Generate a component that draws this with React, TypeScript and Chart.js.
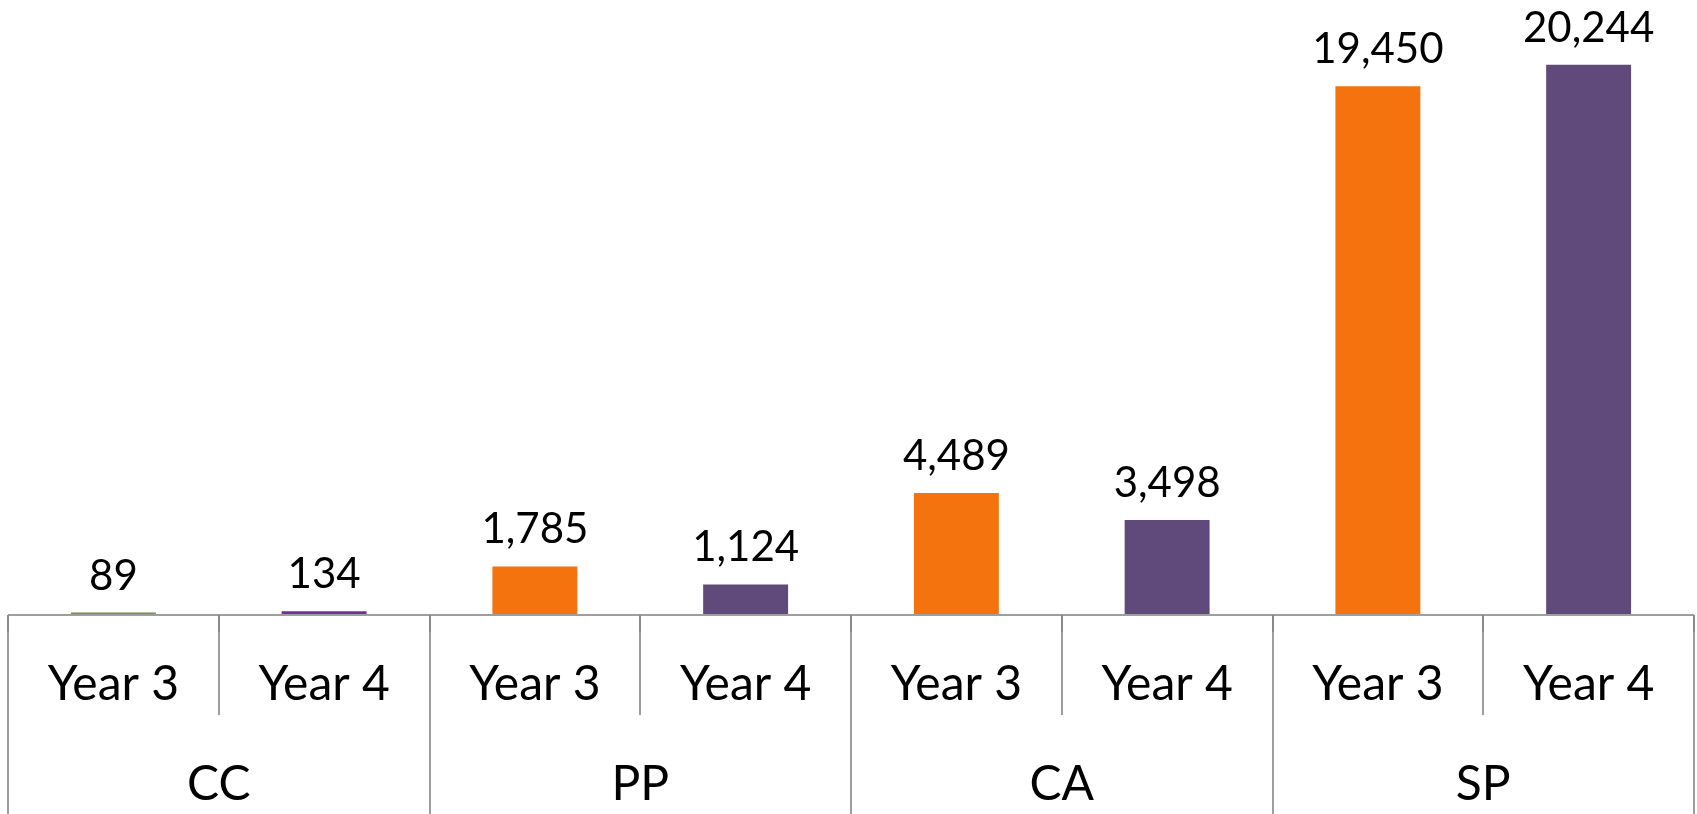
import React, { useEffect, useRef } from 'react';
import { Chart, registerables } from 'chart.js';

Chart.register(...registerables);

const groups = ['CC', 'PP', 'CA', 'SP'];
const years = ['Year 3', 'Year 4'];
const values = [89, 134, 1785, 1124, 4489, 3498, 19450, 20244];
const barColors = ['#77933C', '#7030A0', '#F4730E', '#604A7B', '#F4730E', '#604A7B', '#F4730E', '#604A7B'];
const yMax = 22000;

const categories = groups.flatMap((g) => years.map((y) => `${g} ${y}`));

const FONT = 'Lato, "Open Sans", sans-serif';

const twoLevelAxis = {
  id: 'twoLevelAxis',
  afterDraw(chart: any) {
    const { ctx, chartArea, scales } = chart;
    const x = scales.x;
    const n = categories.length;
    const bottom = chartArea.bottom;
    const perGroup = years.length;
    ctx.save();
    ctx.strokeStyle = '#9E9E9E';
    ctx.lineWidth = 2;
    ctx.beginPath();
    ctx.moveTo(chartArea.left, bottom);
    ctx.lineTo(chartArea.right, bottom);
    ctx.stroke();
    for (let i = 0; i <= n; i++) {
      const px = Math.round(x.getPixelForValue(i - 0.5));
      const isGroup = i % perGroup === 0;
      ctx.strokeStyle = '#9E9E9E';
      ctx.beginPath();
      ctx.moveTo(px, bottom);
      ctx.lineTo(px, isGroup ? chart.height : bottom + 100);
      ctx.stroke();
      ctx.strokeStyle = '#8A8A8A';
      ctx.beginPath();
      ctx.moveTo(px, bottom);
      ctx.lineTo(px, bottom + 17);
      ctx.stroke();
    }
    ctx.fillStyle = '#000';
    ctx.textAlign = 'center';
    ctx.textBaseline = 'alphabetic';
    ctx.font = `48px ${FONT}`;
    categories.forEach((_, i) => {
      ctx.fillText(years[i % perGroup], x.getPixelForValue(i), bottom + 85);
    });
    groups.forEach((g, gi) => {
      const cx = x.getPixelForValue(gi * perGroup + (perGroup - 1) / 2);
      ctx.fillText(g, cx, bottom + 185);
    });
    // data labels
    ctx.font = `42px ${FONT}`;
    const meta = chart.getDatasetMeta(0);
    meta.data.forEach((bar: any, i: number) => {
      ctx.fillText(values[i].toLocaleString('en-US'), bar.x, bar.y - 23);
    });
    ctx.restore();
  },
};

export default function App() {
  const ref = useRef<HTMLCanvasElement>(null);
  useEffect(() => {
    if (!ref.current) return;
    const chart = new Chart(ref.current, {
      type: 'bar',
      data: {
        labels: categories,
        datasets: [
          {
            data: values,
            backgroundColor: barColors,
            barPercentage: 0.403,
            categoryPercentage: 1,
          },
        ],
      },
      options: {
        animation: false,
        responsive: false,
        maintainAspectRatio: false,
        layout: { padding: { left: 8, right: 3, top: 17, bottom: 199 } },
        plugins: { legend: { display: false }, tooltip: { enabled: false } },
        scales: {
          x: { display: false },
          y: { display: false, min: 0, max: yMax },
        },
      },
      plugins: [twoLevelAxis],
    });
    return () => chart.destroy();
  }, []);
  return (
    <div style={{ position: 'fixed', left: 0, top: 0, width: 1697, height: 814, background: '#fff' }}>
      <canvas ref={ref} width={1697} height={814} style={{ display: 'block' }} />
    </div>
  );
}
